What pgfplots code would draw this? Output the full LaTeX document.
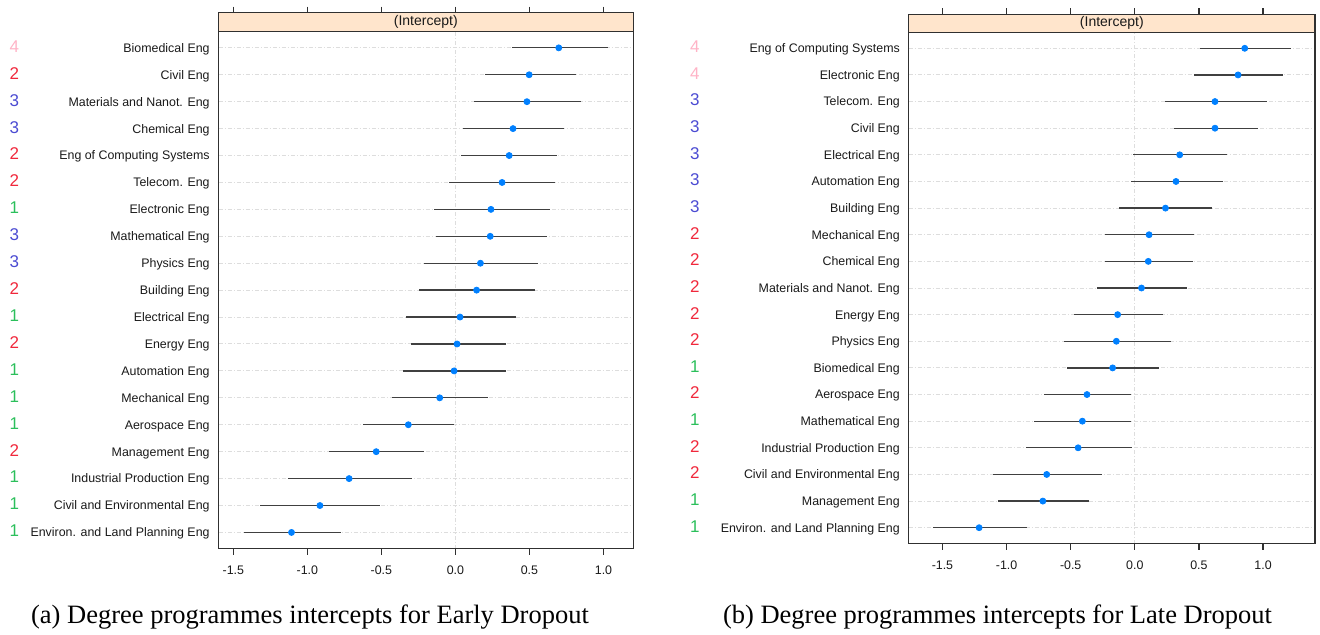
\documentclass[border=0pt]{standalone}
\usepackage{fontspec}
\setmainfont{Liberation Sans}
\newfontfamily\capfont{Liberation Serif}
\usepackage{pgfplots}
\usepackage{pgfplotstable}
\pgfplotsset{compat=1.18}
\definecolor{stripcol}{HTML}{FFE5CC}
\definecolor{ptcol}{HTML}{0080FF}
\definecolor{c4}{HTML}{FFB3C6}
\definecolor{c2}{HTML}{F0283C}
\definecolor{c3}{HTML}{4B4BD2}
\definecolor{c1}{HTML}{2BBF5B}
\definecolor{gridcol}{HTML}{DDDDDD}
\definecolor{axcol}{HTML}{303030}

\newcommand\lbl[3]{\makebox[#1][l]{\fontsize{8.5}{9}\selectfont\textcolor{c#2}{#2}}\llap{#3}}
\newcommand\lL[2]{\lbl{100pt}{#1}{#2}}
\newcommand\lR[2]{\lbl{104.9pt}{#1}{#2}}

\pgfplotstableread{
y lo m hi
1 -1.430 -1.107 -0.772
2 -1.322 -0.915 -0.509
3 -1.130 -0.718 -0.292
4 -0.855 -0.535 -0.212
5 -0.624 -0.318 -0.009
6 -0.426 -0.106 0.223
7 -0.355 -0.009 0.340
8 -0.300 0.011 0.340
9 -0.335 0.031 0.409
10 -0.243 0.143 0.535
11 -0.209 0.169 0.558
12 -0.134 0.235 0.618
13 -0.143 0.240 0.638
14 -0.043 0.315 0.675
15 0.037 0.363 0.684
16 0.049 0.389 0.735
17 0.126 0.483 0.850
18 0.197 0.498 0.815
19 0.380 0.698 1.033
}\tabA

\pgfplotstableread{
y lo m hi
1 -1.571 -1.214 -0.844
2 -1.063 -0.717 -0.360
3 -1.106 -0.687 -0.255
4 -0.851 -0.442 -0.023
5 -0.789 -0.409 -0.033
6 -0.707 -0.373 -0.033
7 -0.527 -0.173 0.187
8 -0.556 -0.144 0.285
9 -0.474 -0.134 0.216
10 -0.298 0.052 0.409
11 -0.236 0.105 0.455
12 -0.236 0.111 0.465
13 -0.124 0.239 0.602
14 -0.029 0.321 0.687
15 -0.013 0.350 0.717
16 0.308 0.625 0.962
17 0.239 0.625 1.031
18 0.458 0.805 1.155
19 0.510 0.857 1.214
}\tabB

\pgfplotsset{myax/.style={
  scale only axis, anchor=south west,
  ymin=0.4, ytick={1,...,19},
  axis line style={axcol, line width=0.6pt},
  tick align=outside, xtick pos=both, xticklabel pos=left, ytick pos=left,
  major tick length=3pt,
  x tick style={axcol, line width=0.6pt},
  y tick style={draw=none},
  xtick={-1.5,-1,-0.5,0,0.5,1},
  xticklabels={-1.5,-1.0,-0.5,0.0,0.5,1.0},
  ymajorgrids, y grid style={gridcol, dash pattern=on 2pt off 1pt on 0.5pt off 1pt, line width=0.5pt},
  tick label style={font=\fontsize{6.2}{7}\selectfont, color=black!90},
  xticklabel style={anchor=north, inner sep=0pt, yshift=-5.5pt},
  yticklabel style={anchor=base east, inner sep=0pt, xshift=-1.25pt, yshift=-2.2pt},
  clip=false,
}}
\pgfplotsset{ebplot/.style={only marks, mark=*, mark size=1.5pt, mark options={fill=ptcol, draw=ptcol},
  error bars/.cd, x dir=both, x explicit, error mark=none,
  error bar style={line width=0.65pt, black!75}}}

\begin{document}
\begin{tikzpicture}
\useasboundingbox (0,0) rectangle (660pt,317.5pt);
\begin{axis}[myax, at={(109.25pt,43.2pt)}, width=207.3pt, height=267.95pt,
  xmin=-1.6, xmax=1.2, ymax=20.306,
  yticklabels={
    {\lL{1}{Environ. and Land Planning Eng}},
    {\lL{1}{Civil and Environmental Eng}},
    {\lL{1}{Industrial Production Eng}},
    {\lL{2}{Management Eng}},
    {\lL{1}{Aerospace Eng}},
    {\lL{1}{Mechanical Eng}},
    {\lL{1}{Automation Eng}},
    {\lL{2}{Energy Eng}},
    {\lL{1}{Electrical Eng}},
    {\lL{2}{Building Eng}},
    {\lL{3}{Physics Eng}},
    {\lL{3}{Mathematical Eng}},
    {\lL{1}{Electronic Eng}},
    {\lL{2}{Telecom. Eng}},
    {\lL{2}{Eng of Computing Systems}},
    {\lL{3}{Chemical Eng}},
    {\lL{3}{Materials and Nanot. Eng}},
    {\lL{2}{Civil Eng}},
    {\lL{4}{Biomedical Eng}}}]
\fill[stripcol] (axis cs:-1.6,19.6) rectangle (axis cs:1.2,20.306);
\draw[gridcol, dash pattern=on 2pt off 1pt on 0.5pt off 1pt, line width=0.5pt] (axis cs:0,0.4) -- (axis cs:0,19.6);
\addplot[ebplot] table[x=m, y=y, x error plus expr=\thisrow{hi}-\thisrow{m}, x error minus expr=\thisrow{m}-\thisrow{lo}] {\tabA};
\draw[axcol, line width=0.6pt] (axis cs:-1.6,19.6) -- (axis cs:1.2,19.6);
\draw[axcol, line width=0.6pt] (rel axis cs:0,0) rectangle (rel axis cs:1,1);
\node[font=\fontsize{7}{8}\selectfont, color=black!90] at (axis cs:-0.2,19.953) {(Intercept)};
\end{axis}

\begin{axis}[myax, at={(454.35pt,45.65pt)}, width=203.15pt, height=264.7pt,
  xmin=-1.763, xmax=1.405, ymax=20.277,
  yticklabels={
    {\lR{1}{Environ. and Land Planning Eng}},
    {\lR{1}{Management Eng}},
    {\lR{2}{Civil and Environmental Eng}},
    {\lR{2}{Industrial Production Eng}},
    {\lR{1}{Mathematical Eng}},
    {\lR{2}{Aerospace Eng}},
    {\lR{1}{Biomedical Eng}},
    {\lR{2}{Physics Eng}},
    {\lR{2}{Energy Eng}},
    {\lR{2}{Materials and Nanot. Eng}},
    {\lR{2}{Chemical Eng}},
    {\lR{2}{Mechanical Eng}},
    {\lR{3}{Building Eng}},
    {\lR{3}{Automation Eng}},
    {\lR{3}{Electrical Eng}},
    {\lR{3}{Civil Eng}},
    {\lR{3}{Telecom. Eng}},
    {\lR{4}{Electronic Eng}},
    {\lR{4}{Eng of Computing Systems}}}]
\fill[stripcol] (axis cs:-1.763,19.6) rectangle (axis cs:1.405,20.277);
\draw[gridcol, dash pattern=on 2pt off 1pt on 0.5pt off 1pt, line width=0.5pt] (axis cs:0,0.4) -- (axis cs:0,19.6);
\addplot[ebplot] table[x=m, y=y, x error plus expr=\thisrow{hi}-\thisrow{m}, x error minus expr=\thisrow{m}-\thisrow{lo}] {\tabB};
\draw[axcol, line width=0.6pt] (axis cs:-1.763,19.6) -- (axis cs:1.405,19.6);
\draw[axcol, line width=0.6pt] (rel axis cs:0,0) rectangle (rel axis cs:1,1);
\node[font=\fontsize{7}{8}\selectfont, color=black!90] at (axis cs:-0.179,19.94) {(Intercept)};
\end{axis}

\node[anchor=base, font=\capfont\fontsize{13.25}{15}\selectfont] at (155pt,5.5pt) {(a) Degree programmes intercepts for Early Dropout};
\node[anchor=base, font=\capfont\fontsize{13.25}{15}\selectfont] at (498.75pt,5.5pt) {(b) Degree programmes intercepts for Late Dropout};
\end{tikzpicture}
\end{document}
